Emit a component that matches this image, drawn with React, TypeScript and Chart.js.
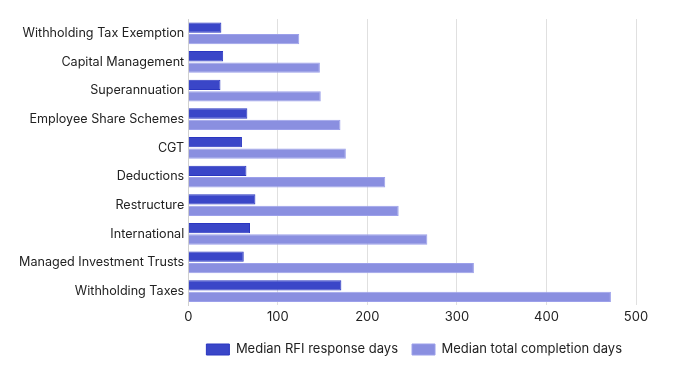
import React, { useEffect, useRef } from "react";
import { Chart, registerables } from "chart.js";

Chart.register(...registerables);

const categories = [
  "Withholding Tax Exemption",
  "Capital Management",
  "Superannuation",
  "Employee Share Schemes",
  "CGT",
  "Deductions",
  "Restructure",
  "International",
  "Managed Investment Trusts",
  "Withholding Taxes",
];
const rfiDays = [37, 39, 36, 66, 60, 65, 75, 69, 62, 171];
const totalDays = [124, 147, 148, 170, 176, 220, 235, 267, 319, 472];

export default function App() {
  const ref = useRef<HTMLCanvasElement | null>(null);
  useEffect(() => {
    if (!ref.current) return;
    const font = "Inter, 'Noto Sans', sans-serif";
    const chart = new Chart(ref.current, {
      type: "bar",
      data: {
        labels: categories,
        datasets: [
          {
            label: "Median RFI response days",
            data: rfiDays,
            backgroundColor: "#3a46c8",
            borderColor: "#2a36c0",
            borderWidth: 1,
          },
          {
            label: "Median total completion days",
            data: totalDays,
            backgroundColor: "#8a8fe0",
            borderColor: "#9ca0ea",
            borderWidth: 1,
          },
        ],
      },
      options: {
        indexAxis: "y",
        animation: false,
        responsive: false,
        layout: { padding: { top: 19, right: 44, left: 15, bottom: 6 } },
        scales: {
          x: {
            min: 0,
            max: 500,
            ticks: { stepSize: 100, padding: 4, color: "#222", font: { family: font, size: 13 } },
            grid: { color: "#e0e0e0", drawTicks: false, tickLength: 0 },
            border: { display: false },
          },
          y: {
            ticks: { padding: 4, color: "#222", font: { family: font, size: 12.6 } },
            grid: { display: false, drawTicks: false, tickLength: 0 },
            border: { color: "#d0d0d0" },
          },
        },
        plugins: {
          legend: {
            position: "bottom",
            align: "end",
            labels: {
              color: "#222",
              boxWidth: 23,
              boxHeight: 11,
              padding: 14,
              font: { family: font, size: 13 },
            },
          },
          tooltip: { enabled: false },
        },
      },
    });
    return () => chart.destroy();
  }, []);
  return (
    <div style={{ position: "absolute", left: 0, top: 0, width: 680, height: 372, background: "#fff" }}>
      <canvas ref={ref} width={680} height={372} />
    </div>
  );
}
